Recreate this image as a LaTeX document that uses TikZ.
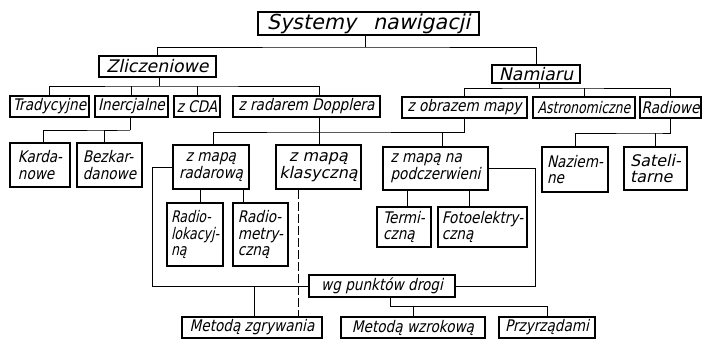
\documentclass[tikz,border=0pt]{standalone}
\usepackage{fontspec}
\newfontfamily\lett[FakeSlant=0.22,FakeStretch=0.85]{DejaVu Sans}
\newfontfamily\lettn[FakeSlant=0.22,FakeStretch=0.78]{DejaVu Sans}
\newfontfamily\lettw[FakeSlant=0.22]{DejaVu Sans}
\tikzset{
  box/.style={draw, line width=1.2pt, inner sep=1pt, font=\lett\fontsize{12}{12.5}\selectfont},
  link/.style={line width=0.75pt},
  hidden/.style={line width=0.75pt, dash pattern=on 7pt off 2pt}
}
\begin{document}
\begin{tikzpicture}[x=0.75pt,y=0.75pt,yscale=-1,xscale=1]
\useasboundingbox (0,0) rectangle (703,340);

% Text Node
\node[box, font=\lettw\fontsize{15.5}{16}\selectfont, minimum width=165.75pt, minimum height=17.25pt] (sys) at (368.5,23.5) {Systemy\hspace{0.5em} nawigacji};
% Text Node
\node[box, font=\lettw\fontsize{13}{13}\selectfont, minimum width=87.75pt, minimum height=15.75pt] (zlic) at (157.5,66.5) {Zliczeniowe};
% Text Node
\node[box, font=\lettw\fontsize{13}{13}\selectfont, minimum width=66pt, minimum height=13.5pt] (nam) at (536,74) {Namiaru};

% Text Node
\node[box, minimum width=59.25pt, minimum height=15.75pt] (trad) at (49.5,106.5) {Tradycyjne};
% Text Node
\node[box, minimum width=54.75pt, minimum height=15.75pt] (iner) at (131.5,106.5) {Inercjalne};
% Text Node
\node[box, minimum width=34.5pt, minimum height=15.75pt] (zcda) at (197,106.5) {z CDA};
% Text Node
\node[box, minimum width=110.25pt, minimum height=15.75pt] (dopp) at (306.5,106.5) {z radarem Dopplera};
% Text Node
\node[box, minimum width=93.75pt, minimum height=15.75pt] (obraz) at (464.5,107.5) {z obrazem mapy};
% Text Node
\node[box, font=\lettn\fontsize{12}{12.5}\selectfont, minimum width=76.5pt, minimum height=15.75pt] (astro) at (584,107.5) {Astronomiczne};
% Text Node
\node[box, minimum width=45.75pt, minimum height=15.75pt] (radio) at (670.5,107.5) {Radiowe};

% Text Node
\node[box, align=left, minimum width=45pt, minimum height=33pt] (kard) at (40,165) {Karda-\\nowe};
% Text Node
\node[box, align=left, minimum width=48.75pt, minimum height=33pt] (bezk) at (109.5,165) {Bezkar-\\danowe};
% Text Node
\node[box, align=center, minimum width=57pt, minimum height=33pt] (radar) at (211,167) {z mapą\\radarową};
% Text Node
\node[box, align=center, font=\lettw\fontsize{12}{12.5}\selectfont, minimum width=63.75pt, minimum height=33pt] (klas) at (318.5,167) {z mapą\\klasyczną};
% Text Node
\node[box, align=left, minimum width=78.75pt, minimum height=32.25pt] (podcz) at (435.5,168.5) {z mapą na\\podczerwieni};
% Text Node
\node[box, align=left, minimum width=49.5pt, minimum height=33.75pt] (naz) at (575,169.5) {Naziem-\\ne};
% Text Node
\node[box, align=left, font=\lettw\fontsize{12}{12.5}\selectfont, minimum width=47.25pt, minimum height=32.25pt] (sat) at (655.5,168.5) {Sateli-\\tarne};

% Text Node
\node[box, align=left, font=\lettn\fontsize{12}{12.5}\selectfont, minimum width=42pt, minimum height=47.25pt] (rlok) at (195,234.5) {Radio-\\lokacyj-\\ną};
% Text Node
\node[box, align=left, minimum width=41.25pt, minimum height=47.25pt] (rmet) at (260.5,234.5) {Radio-\\metry-\\czną};
% Text Node
\node[box, align=left, minimum width=40.5pt, minimum height=30pt] (term) at (404,227) {Termi-\\czną};
% Text Node
\node[box, align=left, minimum width=66.75pt, minimum height=30pt] (foto) at (482.5,227) {Fotoelektry-\\czną};

% Text Node
\node[box, minimum width=109.5pt, minimum height=16.5pt] (wg) at (382,286) {wg punktów drogi};
% Text Node
\node[box, minimum width=105pt, minimum height=15.75pt] (zgr) at (252,327.5) {Metodą zgrywania};
% Text Node
\node[box, minimum width=108pt, minimum height=15.75pt] (wzr) at (413,327.5) {Metodą wzrokową};
% Text Node
\node[box, minimum width=72pt, minimum height=15.75pt] (przy) at (547,327.5) {Przyrządami};

% Junctions
\coordinate (j0) at (365,47);
\coordinate (j1) at (159,86);
\coordinate (j2) at (539,88);
\coordinate (j3) at (319,132);
\coordinate (j4) at (130,130);
\coordinate (j5) at (656,133);
\coordinate (j6) at (390,306);
\coordinate (c1) at (152,286);
\coordinate (c2) at (535,286);
\coordinate (c3) at (298,300);

%Straight Lines
\draw[link] (sys.south -| j0) -- (j0);
\draw[link] (zlic) |- (j0) -| (nam);
%Straight Lines
\draw[link] (zlic.south -| j1) -- (j1);
\draw[link] (trad) |- (j1) -| (dopp.north -| j3);
\draw[link] (iner) -- (iner |- j1);
\draw[link] (zcda) -- (zcda |- j1);
%Straight Lines
\draw[link] (nam.south -| j2) -- (j2);
\draw[link] (obraz) |- (j2) -| (radio);
\draw[link] (astro) -- (astro |- j2);
%Straight Lines
\draw[link] (iner.south -| j4) -- (j4);
\draw[link] ([xshift=2.25pt]kard.north) |- (j4) -| ([xshift=-4pt]bezk.north);
%Straight Lines
\draw[link] (dopp.south -| j3) -- (klas.north -| j3);
\draw[link] ([xshift=1.5pt]radar.north) |- (j3) -| (obraz);
\draw[link] ([xshift=5.6pt]podcz.north) -- ([xshift=5.6pt]podcz.north |- j3);
%Straight Lines
\draw[link] (naz) |- (j5) -| (radio);
\draw[link] (sat) -- (sat |- j5);
%Straight Lines
\draw[link] ([xshift=3.75pt]rlok.north) -- ([xshift=3.75pt]rlok.north |- radar.south);
\draw[link] ([xshift=-12.4pt]rmet.north) -- ([xshift=-12.4pt]rmet.north |- radar.south);
\draw[link] ([xshift=2.25pt]term.north) -- ([xshift=2.25pt]term.north |- podcz.south);
\draw[link] ([xshift=-10.1pt]foto.north) -- ([xshift=-10.1pt]foto.north |- podcz.south);
%Straight Lines
\draw[link] (radar.west) -| (c1) -- (wg.west);
\draw[link] (podcz.east) -| (c2) -- (wg.east);
\draw[link] ([xshift=1.5pt]zgr.north) -- ([xshift=1.5pt]zgr.north |- c1);
\draw[hidden] (klas.south -| c3) -- (zgr.north -| c3);
%Straight Lines
\draw[link] (wg.south -| j6) -- (j6) -| (przy);
\draw[link] (wzr) -- (wzr |- j6);

\end{tikzpicture}
\end{document}
